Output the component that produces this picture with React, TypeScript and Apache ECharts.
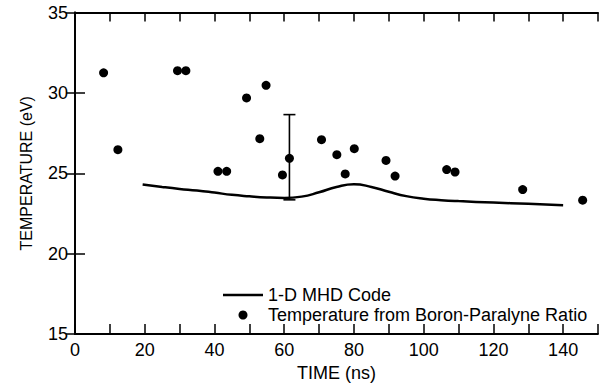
import React, { useEffect, useRef } from "react";
import * as echarts from "echarts";

const xTicks = [0, 20, 40, 60, 80, 100, 120, 140];
const yTicks = [15, 20, 25, 30, 35];

const mhdTime = [19.4, 25, 30, 35, 40, 45, 50, 55, 60, 65, 70, 75, 80, 85, 90, 95, 100, 105, 110, 120, 130, 140];
const mhdTemp = [24.3, 24.15, 24.03, 23.93, 23.8, 23.66, 23.57, 23.5, 23.47, 23.55, 23.82, 24.15, 24.32, 24.15, 23.85, 23.58, 23.42, 23.33, 23.27, 23.18, 23.1, 23.02];

const ptTime = [8.2, 12.3, 29.4, 31.8, 41.0, 43.5, 49.2, 54.8, 53.0, 59.5, 61.5, 70.7, 75.1, 77.5, 80.1, 89.2, 91.8, 106.6, 109.0, 128.4, 145.6];
const ptTemp = [31.25, 26.47, 31.38, 31.38, 25.12, 25.12, 29.69, 30.47, 27.15, 24.9, 25.93, 27.09, 26.16, 24.96, 26.53, 25.8, 24.83, 25.23, 25.08, 23.99, 23.33];

const errTime = [61.5];
const errLow = [23.35];
const errHigh = [28.65];

const FONT = "'Liberation Sans', Arial, Helvetica, sans-serif";

export default function App() {
  const ref = useRef<HTMLDivElement>(null);
  useEffect(() => {
    if (!ref.current) return;
    const chart = echarts.init(ref.current, undefined, { renderer: "svg" });
    const black = "#000";
    chart.setOption({
      animation: false,
      backgroundColor: "#fff",
      textStyle: { fontFamily: FONT },
      grid: { left: 75, top: 12.5, right: -3, bottom: 51 },
      legend: {
        orient: "vertical",
        left: 218,
        top: 281,
        itemWidth: 40,
        itemHeight: 9,
        itemGap: 2,
        textStyle: { fontSize: 18, color: black, fontFamily: FONT },
        data: [
          { name: "1-D MHD Code", icon: "path://M0,0 L40,0 L40,2.5 L0,2.5 Z" },
          { name: "Temperature from Boron-Paralyne Ratio", icon: "circle" },
        ],
      },
      xAxis: [
        {
          type: "value",
          min: 0,
          max: 150,
          interval: 10,
          position: "bottom",
          name: "TIME (ns)",
          nameLocation: "middle",
          nameGap: 27,
          nameTextStyle: { fontSize: 18, color: black, fontFamily: FONT },
          axisLine: { lineStyle: { color: black, width: 1.8 } },
          axisTick: { inside: true, length: 10, lineStyle: { color: black, width: 1.5 } },
          axisLabel: {
            fontSize: 18,
            color: black,
            margin: 7,
            fontFamily: FONT,
            formatter: (v: number) => (xTicks.indexOf(v) >= 0 ? String(v) : ""),
          },
          splitLine: { show: false },
        },
        {
          type: "value",
          min: 0,
          max: 150,
          interval: 10,
          position: "top",
          axisLine: { lineStyle: { color: black, width: 1.8 } },
          axisTick: { inside: true, length: 9, lineStyle: { color: black, width: 1.5 } },
          axisLabel: { show: false },
          splitLine: { show: false },
        },
      ],
      yAxis: [
        {
          type: "value",
          min: 15,
          max: 35,
          interval: 5,
          position: "left",
          name: "TEMPERATURE (eV)",
          nameLocation: "middle",
          nameGap: 41,
          nameTextStyle: { fontSize: 16, color: black, fontFamily: FONT },
          axisLine: { lineStyle: { color: black, width: 1.8 } },
          axisTick: { inside: true, length: 10, lineStyle: { color: black, width: 1.5 } },
          axisLabel: {
            fontSize: 18,
            color: black,
            margin: 7,
            fontFamily: FONT,
            formatter: (v: number) => (yTicks.indexOf(v) >= 0 ? String(v) : ""),
          },
          splitLine: { show: false },
        },
        {
          type: "value",
          min: 15,
          max: 35,
          interval: 5,
          position: "right",
          axisLine: { lineStyle: { color: black, width: 1.8 } },
          axisTick: { inside: true, length: 9, lineStyle: { color: black, width: 1.5 } },
          axisLabel: { show: false },
          splitLine: { show: false },
        },
      ],
      series: [
        {
          name: "1-D MHD Code",
          type: "line",
          smooth: true,
          showSymbol: false,
          symbol: "none",
          lineStyle: { color: black, width: 2.5 },
          itemStyle: { color: black },
          data: mhdTime.map((t, i) => [t, mhdTemp[i]]),
        },
        {
          name: "Temperature from Boron-Paralyne Ratio",
          type: "scatter",
          symbol: "circle",
          symbolSize: 9,
          itemStyle: { color: black, opacity: 1 },
          data: ptTime.map((t, i) => [t, ptTemp[i]]),
        },
        {
          name: "error",
          type: "custom",
          data: errTime.map((t, i) => [t, errLow[i], errHigh[i]]),
          renderItem: (params: any, api: any) => {
            const x = api.value(0);
            const lo = api.coord([x, api.value(1)]);
            const hi = api.coord([x, api.value(2)]);
            const w = 6;
            const style = { stroke: black, lineWidth: 1.6 };
            return {
              type: "group",
              children: [
                { type: "line", shape: { x1: lo[0], y1: lo[1], x2: hi[0], y2: hi[1] }, style },
                { type: "line", shape: { x1: lo[0] - w, y1: lo[1], x2: lo[0] + w, y2: lo[1] }, style },
                { type: "line", shape: { x1: hi[0] - w, y1: hi[1], x2: hi[0] + w, y2: hi[1] }, style },
              ],
            };
          },
        },
      ],
    });
    return () => chart.dispose();
  }, []);
  return (
    <div style={{ position: "absolute", left: 0, top: 0, width: 601, height: 387, overflow: "hidden" }}>
      <div ref={ref} style={{ width: 601, height: 387 }} />
    </div>
  );
}
